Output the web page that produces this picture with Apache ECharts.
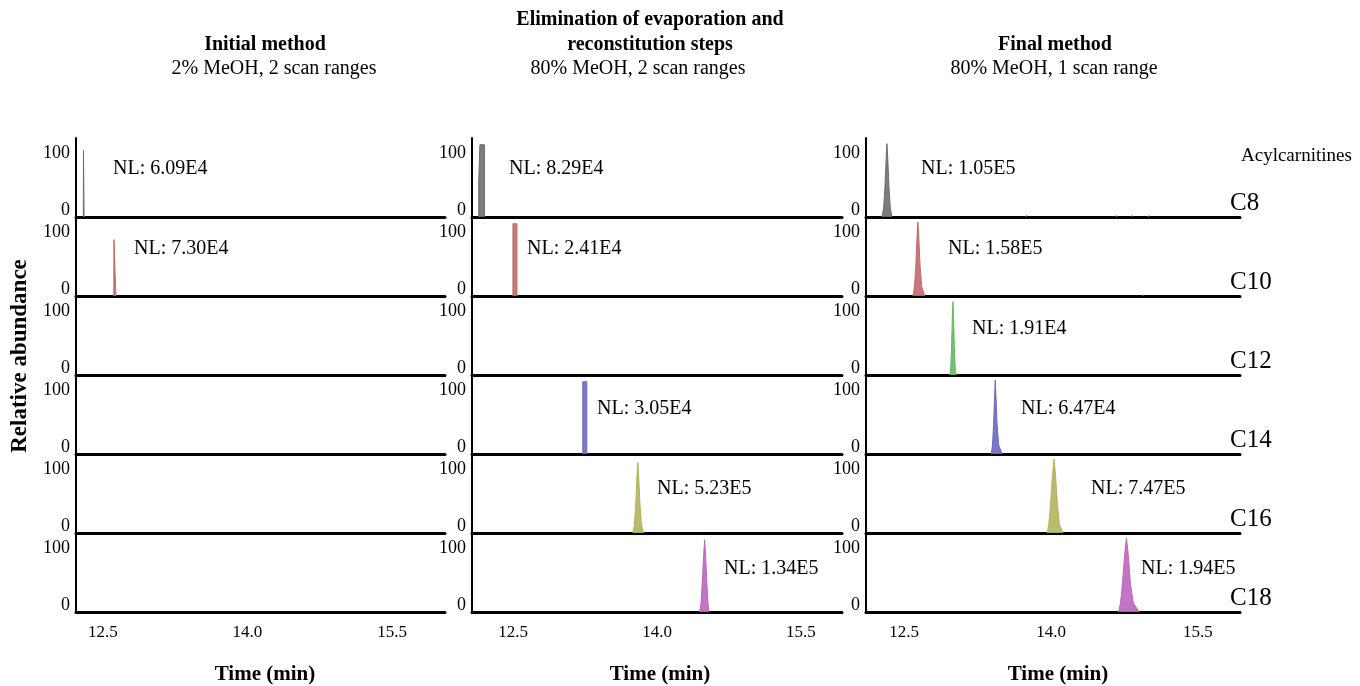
<!DOCTYPE html>
<html><head><meta charset="utf-8">
<script src="https://cdn.jsdelivr.net/npm/echarts@6/dist/echarts.min.js"></script>
<style>html,body{margin:0;padding:0;background:#fff}#c{width:1360px;height:686px}</style>
</head><body><div id="c"></div>
<script>
// ---------- data ----------
const compounds = ['C8', 'C10', 'C12', 'C14', 'C16', 'C18'];
const panelTitles = ['Initial method', 'Elimination of evaporation and\nreconstitution steps', 'Final method'];
const panelSubtitles = ['2% MeOH, 2 scan ranges', '80% MeOH, 2 scan ranges', '80% MeOH, 1 scan range'];
const timeMin = [12.22, 12.07, 12.11];
const timeMax = [16.05, 15.93, 15.93];
const timeTicks = [12.5, 14.0, 15.5];
const abundanceTicks = [0, 100];
const abundanceMax = 140;
const nlLabels = [
  ['NL: 6.09E4', 'NL: 7.30E4', null, null, null, null],
  ['NL: 8.29E4', 'NL: 2.41E4', null, 'NL: 3.05E4', 'NL: 5.23E5', 'NL: 1.34E5'],
  ['NL: 1.05E5', 'NL: 1.58E5', 'NL: 1.91E4', 'NL: 6.47E4', 'NL: 7.47E5', 'NL: 1.94E5']
];
// peaks: [time (min), relative abundance]
const initialC8 = [[12.296, 0], [12.298, 118], [12.302, 118], [12.304, 0]];
const initialC10 = [[12.612, 0], [12.614, 100], [12.622, 100], [12.630, 100], [12.634, 0]];
const elimC8 = [[12.14, 0], [12.14, 60], [12.152, 60], [12.152, 128], [12.2, 128], [12.2, 0]];
const elimC10 = [[12.497, 0], [12.497, 128], [12.539, 128], [12.539, 0]];
const elimC14 = [[13.226, 0], [13.226, 128], [13.268, 128], [13.268, 0]];
const elimC16 = [[13.75, 0], [13.765, 16], [13.778, 52], [13.792, 104], [13.80, 125], [13.808, 104], [13.822, 52], [13.837, 16], [13.86, 0]];
const elimC18 = [[14.445, 0], [14.46, 16], [14.472, 52], [14.488, 104], [14.497, 128], [14.506, 104], [14.52, 52], [14.532, 16], [14.54, 0]];
const finalC8 = [[12.273, 0], [12.29, 16], [12.303, 52], [12.316, 104], [12.324, 130], [12.332, 104], [12.345, 52], [12.358, 16], [12.375, 0]];
const finalC10 = [[12.59, 0], [12.605, 16], [12.618, 52], [12.632, 106], [12.64, 131], [12.648, 106], [12.663, 52], [12.68, 16], [12.71, 0]];
const finalC12 = [[12.967, 0], [12.976, 16], [12.984, 52], [12.992, 104], [12.998, 130], [13.004, 104], [13.012, 52], [13.02, 16], [13.03, 0]];
const finalC14 = [[13.39, 0], [13.402, 16], [13.413, 52], [13.424, 104], [13.43, 131], [13.437, 104], [13.449, 52], [13.465, 16], [13.5, 0]];
const finalC16 = [[13.96, 0], [13.978, 16], [13.995, 52], [14.015, 104], [14.03, 131], [14.045, 104], [14.065, 52], [14.085, 16], [14.12, 0]];
const finalC18 = [[14.69, 0], [14.71, 16], [14.73, 52], [14.753, 104], [14.77, 131], [14.787, 104], [14.81, 52], [14.84, 16], [14.9, 0]];
// small baseline bumps (noise) in the final method traces
const finalC8Noise = [[13.745, 0], [13.75, 3], [13.755, 0]];
const finalC8Noise2 = [[14.665, 0], [14.67, 3], [14.675, 0]];
const finalC8Noise3 = [[14.825, 0], [14.83, 3], [14.835, 0]];
const finalC8Noise4 = [[14.995, 0], [15.0, 3], [15.005, 0]];
const finalC10Noise = [[14.935, 0], [14.94, 2], [14.945, 0]];
const peaks = [
  [[initialC8], [initialC10], [], [], [], []],
  [[elimC8], [elimC10], [], [elimC14], [elimC16], [elimC18]],
  [[finalC8, finalC8Noise, finalC8Noise2, finalC8Noise3, finalC8Noise4], [finalC10, finalC10Noise], [finalC12], [finalC14], [finalC16], [finalC18]]
];

// ---------- style / layout ----------
const colors = ['#6e6e6e', '#c06a6a', '#66b866', '#6a6abf', '#b5b35e', '#bb66bb'];
const FONT = 'Liberation Serif';
const panelLeft = [76, 472, 866];
const panelWidth = [369, 370, 374];
const rowTop0 = 138, rowH = 79;
const nlLeft = [
  [113, 134, 0, 0, 0, 0],
  [509, 527, 0, 597, 657, 724],
  [921, 948, 972, 1021, 1091, 1141]
];
const titleCenter = [265, 650, 1055];
const subtitleCenter = [274, 638, 1054];
const timeCenter = [265, 660, 1058];

const grids = [], xAxes = [], yAxes = [], series = [], graphics = [];
for (let p = 0; p < 3; p++) {
  for (let r = 0; r < 6; r++) {
    const gi = p * 6 + r;
    grids.push({ left: panelLeft[p], width: panelWidth[p], top: rowTop0 + r * rowH, height: rowH });
    xAxes.push({
      gridIndex: gi, type: 'value', min: timeMin[p], max: timeMax[p],
      axisLine: { show: true, onZero: false, lineStyle: { color: '#000', width: 3 } },
      axisTick: { show: false }, splitLine: { show: false },
      axisLabel: { show: r === 5, customValues: timeTicks, formatter: v => v.toFixed(1),
        fontFamily: FONT, fontSize: 17, color: '#000', margin: 12 }
    });
    yAxes.push({
      gridIndex: gi, type: 'value', min: 0, max: abundanceMax,
      axisLine: { show: true, lineStyle: { color: '#000', width: 2 } },
      axisTick: { show: false }, splitLine: { show: false },
      axisLabel: { customValues: abundanceTicks, fontFamily: FONT, fontSize: 18, color: '#000',
        margin: 6, verticalAlign: 'bottom', lineHeight: 14 }
    });
    peaks[p][r].forEach(d => {
      series.push({
        type: 'line', xAxisIndex: gi, yAxisIndex: gi, data: d, showSymbol: false, symbol: 'none',
        lineStyle: { width: 1, color: colors[r] }, areaStyle: { color: colors[r], opacity: 0.9 },
        silent: true, z: 3
      });
    });
    if (nlLabels[p][r]) {
      graphics.push({ type: 'text', x: nlLeft[p][r], y: 169 + r * 80,
        style: { text: nlLabels[p][r], font: '20px "' + FONT + '"', fill: '#000', align: 'left', verticalAlign: 'middle' } });
    }
  }
  const titleLines = panelTitles[p].split('\n');
  titleLines.forEach((t, i) => {
    graphics.push({ type: 'text', x: titleCenter[p], y: 45 - (titleLines.length - 1 - i) * 25,
      style: { text: t, font: 'bold 20px "' + FONT + '"', fill: '#000', align: 'center', verticalAlign: 'middle' } });
  });
  graphics.push({ type: 'text', x: subtitleCenter[p], y: 69,
    style: { text: panelSubtitles[p], font: '20px "' + FONT + '"', fill: '#000', align: 'center', verticalAlign: 'middle' } });
  graphics.push({ type: 'text', x: timeCenter[p], y: 675,
    style: { text: 'Time (min)', font: 'bold 21px "' + FONT + '"', fill: '#000', align: 'center', verticalAlign: 'middle' } });
}
compounds.forEach((c, r) => {
  graphics.push({ type: 'text', x: 1230, y: rowTop0 + (r + 1) * rowH - 14,
    style: { text: c, font: '25px "' + FONT + '"', fill: '#000', align: 'left', verticalAlign: 'middle' } });
});
graphics.push({ type: 'text', x: 1241, y: 156,
  style: { text: 'Acylcarnitines', font: '19px "' + FONT + '"', fill: '#000', align: 'left', verticalAlign: 'middle' } });
graphics.push({ type: 'text', x: 20, y: 356, rotation: Math.PI / 2,
  style: { text: 'Relative abundance', font: 'bold 23px "' + FONT + '"', fill: '#000', align: 'center', verticalAlign: 'middle' } });

const chart = echarts.init(document.getElementById('c'), null, { renderer: 'canvas' });
chart.setOption({
  animation: false, backgroundColor: '#fff',
  grid: grids, xAxis: xAxes, yAxis: yAxes, series: series, graphic: graphics
});
</script></body></html>
